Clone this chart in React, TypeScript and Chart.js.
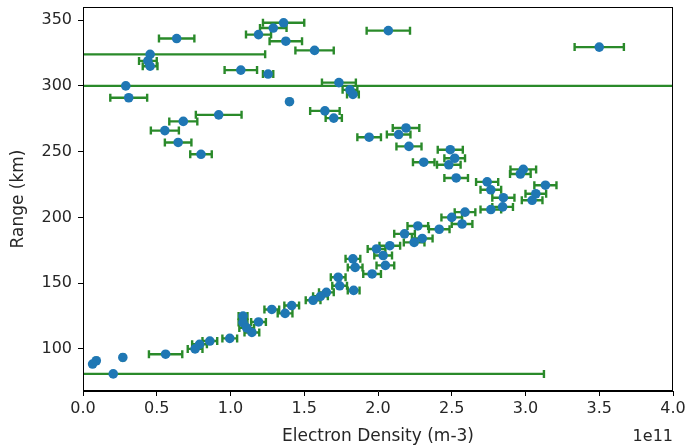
import React, { useEffect, useRef } from "react";
import { Chart, registerables } from "chart.js";

Chart.register(...registerables);

// Electron density in units of 1e11 m-3
const density = [
  0.635, 1.36, 1.29, 1.19, 1.375, 1.57, 0.455, 0.44, 0.455, 1.07,
  1.255, 0.29, 0.31, 1.4, 1.735, 1.81, 1.83, 0.92, 0.68, 0.555,
  0.645, 0.8, 1.64, 1.7, 2.07, 3.5, 1.94, 2.19, 2.14, 2.21,
  2.49, 2.52, 2.31, 2.48, 2.53, 2.985, 2.965, 2.74, 2.765, 3.135,
  3.07, 3.045, 2.85, 2.845, 2.765, 2.59, 2.5, 2.57, 2.415, 2.27,
  2.3, 2.245, 2.18, 2.08, 1.99, 2.035, 2.05, 1.96, 1.83, 1.845,
  1.73, 1.74, 1.835, 1.65, 1.56, 1.61, 1.415, 1.37, 1.28, 1.19,
  1.145, 1.085, 1.085, 1.11, 0.995, 0.86, 0.79, 0.76, 0.56, 0.27,
  0.09, 0.065, 0.205,
];
// Range in km
const rangeKm = [
  336, 348, 344, 339, 334, 327, 324, 319, 315, 312,
  309, 300, 291, 288, 302.5, 297, 293.5, 278, 273, 266,
  257, 248, 281, 275.5, 342, 329.5, 261, 268, 263, 254,
  251.5, 245, 242, 240, 230, 236.5, 233, 227, 221, 224.5,
  218, 213, 215, 208, 206, 204, 200, 195, 191, 193.5,
  184, 181, 187.5, 178.5, 176, 171, 163.5, 157, 168.5, 162,
  154.5, 148, 144.5, 143, 137, 140, 133, 127, 130, 120.5,
  112.5, 125, 120, 116, 108, 106, 103.5, 100, 96, 93.5,
  91, 88.5, 81,
];
// Density error (1e11 m-3)
const densityErr = [
  0.12, 0.14, 0.09, 0.085, 0.11, 0.13, 0.78, 0.06, 0.05, 0.11,
  0.035, 4.5, 0.125, 0.01, 0.115, 0.05, 0.04, 0.155, 0.095, 0.095,
  0.09, 0.073, 0.1, 0.055, 0.147, 0.167, 0.08, 0.09, 0.08, 0.085,
  0.085, 0.07, 0.073, 0.08, 0.08, 0.087, 0.07, 0.075, 0.07, 0.075,
  0.07, 0.07, 0.075, 0.07, 0.07, 0.07, 0.07, 0.07, 0.07, 0.07,
  0.07, 0.07, 0.07, 0.07, 0.06, 0.06, 0.06, 0.06, 0.05, 0.05,
  0.05, 0.05, 0.04, 0.05, 0.05, 0.05, 0.05, 0.05, 0.05, 0.05,
  0.05, 0.03, 0.03, 0.05, 0.05, 0.05, 0.05, 0.05, 0.113, 0.01,
  0.01, 0.01, 2.92,
];

const xTicks = [0, 0.5, 1.0, 1.5, 2.0, 2.5, 3.0, 3.5, 4.0];
const yTicks = [100, 150, 200, 250, 300, 350];
const xLabel = "Electron Density (m-3)";
const yLabel = "Range (km)";
const xOffsetText = "1e11";

const FONT = "DejaVu Sans";
const TEXT = "#262626";

export default function App() {
  const ref = useRef<HTMLCanvasElement>(null);

  useEffect(() => {
    document.body.style.margin = "0";
    const canvas = ref.current!;
    const points = density.map((d, i) => ({ x: d, y: rangeKm[i] }));

    const errorBars = {
      id: "errorBars",
      beforeDatasetsDraw(chart: any) {
        const { ctx, chartArea } = chart;
        const xs = chart.scales.x;
        const ys = chart.scales.y;
        ctx.save();
        ctx.beginPath();
        ctx.rect(chartArea.left, chartArea.top, chartArea.right - chartArea.left, chartArea.bottom - chartArea.top);
        ctx.clip();
        ctx.strokeStyle = "#2a8a2a";
        ctx.lineWidth = 2.4;
        density.forEach((d, i) => {
          const e = densityErr[i];
          const x0 = xs.getPixelForValue(d - e);
          const x1 = xs.getPixelForValue(d + e);
          const y = ys.getPixelForValue(rangeKm[i]);
          ctx.beginPath();
          ctx.moveTo(x0, y);
          ctx.lineTo(x1, y);
          ctx.moveTo(x0, y - 4);
          ctx.lineTo(x0, y + 4);
          ctx.moveTo(x1, y - 4);
          ctx.lineTo(x1, y + 4);
          ctx.stroke();
        });
        ctx.restore();
      },
      afterDraw(chart: any) {
        const { ctx, chartArea } = chart;
        ctx.save();
        ctx.strokeStyle = "#000";
        ctx.lineWidth = 1;
        ctx.strokeRect(
          Math.round(chartArea.left) + 0.5,
          Math.round(chartArea.top) + 0.5,
          Math.round(chartArea.right - chartArea.left) - 1,
          Math.round(chartArea.bottom - chartArea.top) - 1
        );
        ctx.fillStyle = TEXT;
        ctx.font = `17px "${FONT}"`;
        ctx.textBaseline = "middle";
        ctx.textAlign = "center";
        ctx.fillText(xLabel, (chartArea.left + chartArea.right) / 2, 437);
        ctx.textAlign = "right";
        ctx.font = `16px "${FONT}"`;
        ctx.fillText(xOffsetText, chartArea.right, 437);
        ctx.font = `17px "${FONT}"`;
        ctx.translate(19, (chartArea.top + chartArea.bottom) / 2);
        ctx.rotate(-Math.PI / 2);
        ctx.textAlign = "center";
        ctx.fillText(yLabel, 0, 0);
        ctx.restore();
      },
    };

    const chart = new Chart(canvas, {
      type: "scatter",
      data: {
        datasets: [
          {
            data: points,
            backgroundColor: "#1f77b4",
            borderColor: "#1f77b4",
            pointRadius: 4.8,
            pointBorderWidth: 0,
          },
        ],
      },
      options: {
        animation: false,
        responsive: false,
        layout: { padding: { left: 0, top: 7, right: 15, bottom: 0 } },
        plugins: { legend: { display: false }, tooltip: { enabled: false } },
        scales: {
          x: {
            type: "linear",
            min: 0,
            max: 4,
            afterBuildTicks: (s: any) => {
              s.ticks = xTicks.map((v) => ({ value: v }));
            },
            afterFit: (s: any) => {
              s.height = 56;
              s.paddingLeft = 0;
              s.paddingRight = 0;
            },
            ticks: {
              callback: (v: any) => Number(v).toFixed(1),
              font: { family: FONT, size: 16 },
              color: TEXT,
              padding: 3,
              maxRotation: 0,
              autoSkip: false,
            },
            grid: { drawOnChartArea: false, drawTicks: true, tickLength: 5, color: "#000" },
            border: { display: true, color: "#000" },
          },
          y: {
            type: "linear",
            min: 68,
            max: 360,
            afterBuildTicks: (s: any) => {
              s.ticks = yTicks.map((v) => ({ value: v }));
            },
            afterFit: (s: any) => {
              s.width = 83;
              s.paddingTop = 0;
              s.paddingBottom = 0;
            },
            ticks: {
              font: { family: FONT, size: 16 },
              color: TEXT,
              padding: 6,
              autoSkip: false,
            },
            grid: { drawOnChartArea: false, drawTicks: true, tickLength: 5, color: "#000" },
            border: { display: true, color: "#000" },
          },
        },
      },
      plugins: [errorBars],
    });
    return () => chart.destroy();
  }, []);

  return (
    <div style={{ position: "absolute", left: 0, top: 0, width: 688, height: 447, background: "#fff" }}>
      <canvas ref={ref} width={688} height={447} />
    </div>
  );
}
